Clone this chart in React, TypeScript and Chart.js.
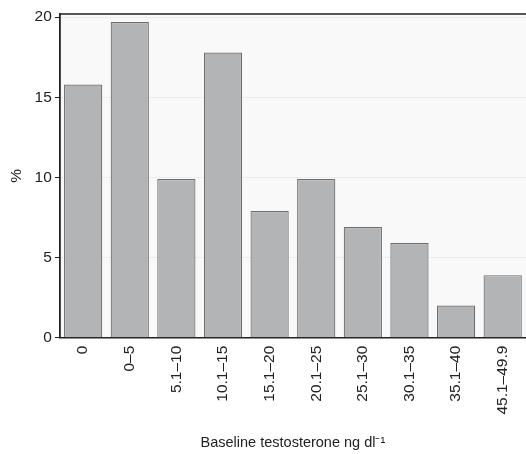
import { useEffect, useRef } from "react"
import { Chart, registerables } from "chart.js"

Chart.register(...registerables)

const categories = ["0", "0–5", "5.1–10", "10.1–15", "15.1–20", "20.1–25", "25.1–30", "30.1–35", "35.1–40", "45.1–49.9"]
const percents = [15.8, 19.7, 9.9, 17.8, 7.9, 9.9, 6.9, 5.9, 2.0, 3.9]
const yTicks = [0, 5, 10, 15, 20]

const bgPlugin = {
  id: "plotBg",
  beforeDraw(chart: Chart) {
    const { ctx, chartArea: a } = chart
    ctx.save()
    ctx.fillStyle = "#f9f9f9"
    ctx.fillRect(a.left, a.top, a.right - a.left, a.bottom - a.top)
    ctx.restore()
  },
  afterDraw(chart: Chart) {
    const { ctx, chartArea: a } = chart
    ctx.save()
    ctx.strokeStyle = "#222"
    ctx.lineWidth = 1.5
    ctx.beginPath()
    ctx.moveTo(a.left, a.bottom)
    ctx.lineTo(a.left, a.top)
    ctx.lineTo(a.right, a.top)
    ctx.stroke()
    ctx.restore()
  },
}

export default function App() {
  const ref = useRef<HTMLCanvasElement>(null)

  useEffect(() => {
    document.body.style.margin = "0"
    if (!ref.current) return
    const font = { family: "Liberation Sans, Arial, sans-serif", size: 15.5 }
    const chart = new Chart(ref.current, {
      type: "bar",
      data: {
        labels: categories,
        datasets: [
          {
            data: percents,
            backgroundColor: "#b3b4b6",
            borderColor: "#6e6e6e",
            borderWidth: 1.2,
            categoryPercentage: 1,
            barPercentage: 0.82,
          },
        ],
      },
      options: {
        animation: false,
        responsive: false,
        layout: { padding: { top: 14, right: 0, bottom: 0, left: 1 } },
        plugins: { legend: { display: false }, tooltip: { enabled: false } },
        scales: {
          x: {
            grid: { display: false, drawTicks: true, tickLength: 6, tickColor: "#222" },
            border: { color: "#222", width: 1.5 },
            ticks: { color: "#222", font, minRotation: 90, maxRotation: 90, padding: 2 },
            title: {
              display: true,
              text: "Baseline testosterone ng dl⁻¹",
              color: "#222",
              font: { ...font, size: 14.5 },
              padding: { top: 18, bottom: 2 },
            },
          },
          y: {
            min: 0,
            max: 20.2,
            afterBuildTicks: (s: any) => {
              s.ticks = yTicks.map((v) => ({ value: v }))
            },
            grid: { color: "#ececec", tickLength: 5, tickColor: "#222" },
            border: { color: "#222", width: 1.5 },
            ticks: { color: "#222", font, padding: 3 },
            title: { display: true, text: "%", color: "#222", font, padding: 6 },
          },
        },
      },
      plugins: [bgPlugin],
    })
    return () => chart.destroy()
  }, [])

  return <canvas ref={ref} width={526} height={454} />
}
